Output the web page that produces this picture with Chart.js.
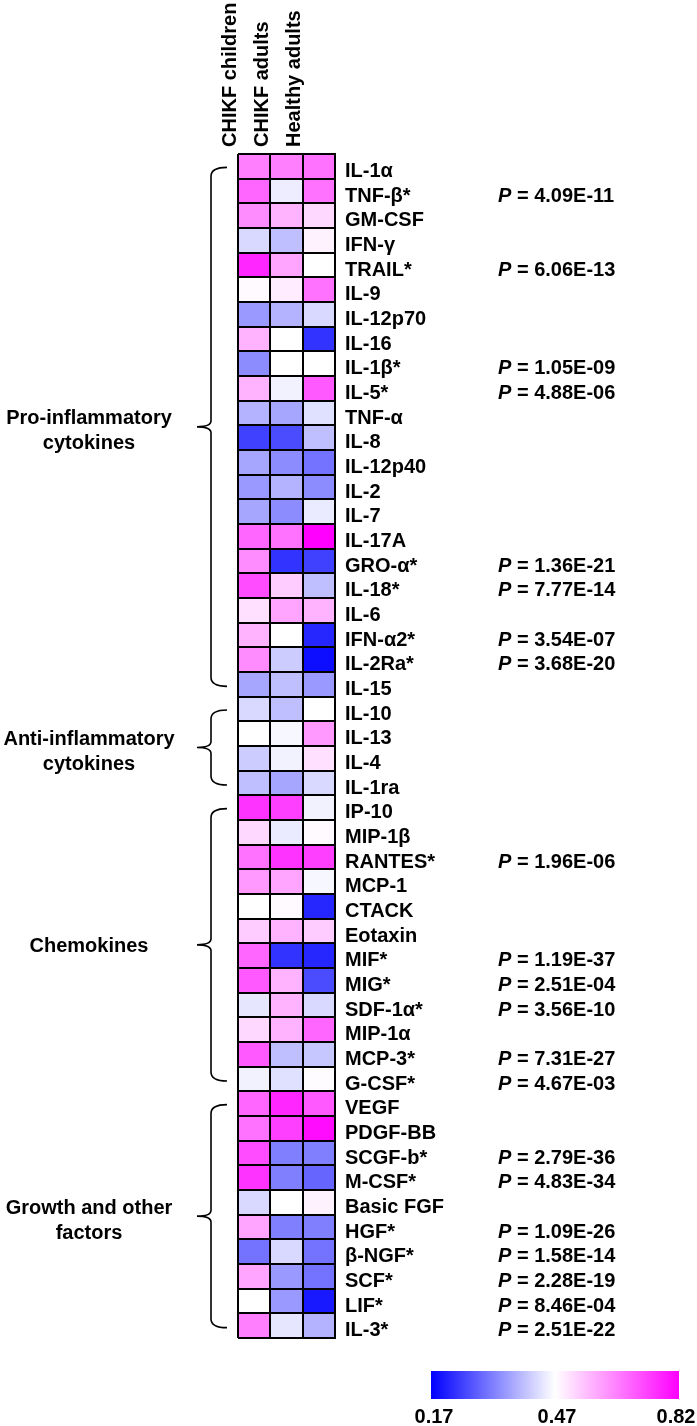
<!DOCTYPE html>
<html>
<head>
<meta charset="utf-8">
<script src="https://cdn.jsdelivr.net/npm/chart.js@4.4.1/dist/chart.umd.min.js"></script>
<style>
html,body{margin:0;padding:0;background:#fff;}
#wrap{width:697px;height:1426px;position:relative;}
</style>
</head>
<body>
<div id="wrap"><canvas id="c" width="697" height="1426"></canvas></div>
<script>
// ---------------- DATA ----------------
const columns = ['CHIKF children', 'CHIKF adults', 'Healthy adults'];

const analytes = [
  'IL-1α','TNF-β*','GM-CSF','IFN-γ','TRAIL*','IL-9','IL-12p70','IL-16','IL-1β*','IL-5*',
  'TNF-α','IL-8','IL-12p40','IL-2','IL-7','IL-17A','GRO-α*','IL-18*','IL-6','IFN-α2*',
  'IL-2Ra*','IL-15',
  'IL-10','IL-13','IL-4','IL-1ra',
  'IP-10','MIP-1β','RANTES*','MCP-1','CTACK','Eotaxin','MIF*','MIG*','SDF-1α*','MIP-1α',
  'MCP-3*','G-CSF*',
  'VEGF','PDGF-BB','SCGF-b*','M-CSF*','Basic FGF','HGF*','β-NGF*','SCF*','LIF*','IL-3*'
];

const childrenValues = [
  0.645,0.680,0.628,0.425,0.768,0.477,0.350,0.575,0.335,0.575,
  0.380,0.245,0.365,0.350,0.365,0.680,0.628,0.715,0.512,0.575,
  0.628,0.365,
  0.425,0.470,0.410,0.395,
  0.750,0.523,0.663,0.610,0.470,0.540,0.680,0.698,0.440,0.523,
  0.698,0.455,
  0.680,0.663,0.715,0.750,0.425,0.593,0.305,0.593,0.470,0.645
];

const adultsValues = [
  0.645,0.449,0.575,0.395,0.593,0.495,0.380,0.470,0.470,0.455,
  0.365,0.260,0.335,0.380,0.335,0.663,0.230,0.540,0.593,0.470,
  0.410,0.395,
  0.395,0.461,0.455,0.365,
  0.733,0.446,0.750,0.593,0.477,0.575,0.230,0.575,0.575,0.575,
  0.395,0.434,
  0.768,0.733,0.320,0.320,0.470,0.320,0.425,0.350,0.350,0.440
];

const healthyValues = [
  0.663,0.663,0.523,0.488,0.470,0.663,0.425,0.230,0.470,0.698,
  0.434,0.395,0.305,0.335,0.446,0.820,0.245,0.395,0.575,0.215,
  0.185,0.350,
  0.470,0.610,0.512,0.425,
  0.455,0.477,0.733,0.461,0.215,0.540,0.215,0.260,0.425,0.680,
  0.404,0.474,
  0.698,0.803,0.320,0.290,0.488,0.320,0.305,0.305,0.200,0.380
];

const pValues = [
  '','4.09E-11','','','6.06E-13','','','','1.05E-09','4.88E-06',
  '','','','','','','1.36E-21','7.77E-14','','3.54E-07',
  '3.68E-20','',
  '','','','',
  '','','1.96E-06','','','','1.19E-37','2.51E-04','3.56E-10','',
  '7.31E-27','4.67E-03',
  '','','2.79E-36','4.83E-34','','1.09E-26','1.58E-14','2.28E-19','8.46E-04','2.51E-22'
];

const groupNames = [['Pro-inflammatory','cytokines'], ['Anti-inflammatory','cytokines'], ['Chemokines'], ['Growth and other','factors']];
const groupFirst = ['IL-1α','IL-10','IP-10','VEGF'];
const groupLast  = ['IL-15','IL-1ra','G-CSF*','IL-3*'];

const colorbarTicks = ['0.17','0.47','0.82'];
const colorMin = 0.17, colorMid = 0.47, colorMax = 0.82;

// ---------------- HELPERS ----------------
const FONT = '"Liberation Sans", Arial, Helvetica, sans-serif';
function colorFor(v){
  let r, g, b;
  if (v <= colorMid){
    const t = Math.max(0, Math.min(1, (colorMid - v) / (colorMid - colorMin)));
    r = 255 * (1 - t); g = 255 * (1 - t); b = 255;
  } else {
    const t = Math.max(0, Math.min(1, (v - colorMid) / (colorMax - colorMid)));
    r = 255; g = 255 * (1 - t); b = 255;
  }
  return 'rgb(' + Math.round(r) + ',' + Math.round(g) + ',' + Math.round(b) + ')';
}

const extras = {
  id: 'extras',
  afterDraw(chart){
    const ctx = chart.ctx;
    const ys = chart.scales.y;
    const area = chart.chartArea;
    ctx.save();
    ctx.fillStyle = '#000';
    ctx.strokeStyle = '#000';

    // P values
    ctx.textBaseline = 'middle';
    ctx.textAlign = 'left';
    const px = area.right + 163;
    pValues.forEach((p, i) => {
      if (!p) return;
      const py = ys.getPixelForValue(i) + 5;
      ctx.font = 'italic bold 20px ' + FONT;
      ctx.fillText('P', px, py);
      const w = ctx.measureText('P').width;
      ctx.font = 'bold 20px ' + FONT;
      ctx.fillText(' = ' + p, px + w, py);
    });

    // Brackets and group labels
    const xv = area.left - 27, xh = area.left - 11, xt = area.left - 41;
    ctx.lineWidth = 1.6;
    groupNames.forEach((lines, k) => {
      const y1 = ys.getPixelForValue(analytes.indexOf(groupFirst[k])) + 1;
      const y2 = ys.getPixelForValue(analytes.indexOf(groupLast[k])) + 2;
      const ym = (y1 + y2) / 2;
      const r = 9;
      ctx.beginPath();
      ctx.moveTo(xh, y1);
      ctx.quadraticCurveTo(xv, y1, xv, y1 + r);
      ctx.lineTo(xv, ym - 6);
      ctx.quadraticCurveTo(xv, ym, xt, ym);
      ctx.quadraticCurveTo(xv, ym, xv, ym + 6);
      ctx.lineTo(xv, y2 - r);
      ctx.quadraticCurveTo(xv, y2, xh, y2);
      ctx.stroke();

      ctx.font = 'bold 20px ' + FONT;
      ctx.textAlign = 'center';
      ctx.textBaseline = 'middle';
      if (lines.length === 1){
        ctx.fillText(lines[0], 89, ym + 2);
      } else {
        ctx.fillText(lines[0], 89, ym - 8);
        ctx.fillText(lines[1], 89, ym + 17);
      }
    });

    // Colour bar
    const bx0 = 431, bx1 = 679, by0 = 1371, by1 = 1399;
    const grad = ctx.createLinearGradient(bx0, 0, bx1, 0);
    grad.addColorStop(0, colorFor(colorMin));
    grad.addColorStop(0.5, colorFor(colorMid));
    grad.addColorStop(1, colorFor(colorMax));
    ctx.fillStyle = grad;
    ctx.fillRect(bx0, by0, bx1 - bx0, by1 - by0);
    ctx.fillStyle = '#000';
    ctx.font = 'bold 20px ' + FONT;
    ctx.textAlign = 'center';
    ctx.textBaseline = 'middle';
    const tx = [bx0 + 3, (bx0 + bx1) / 2 + 2, bx1 - 3];
    colorbarTicks.forEach((t, i) => ctx.fillText(t, tx[i], 1417));
    ctx.restore();
  }
};

function makeDataset(label, vals){
  return {
    label: label,
    data: vals.map(() => 1),
    backgroundColor: vals.map(colorFor),
    borderWidth: 0,
    barPercentage: 1,
    categoryPercentage: 1,
    xAxisID: 'x',
    yAxisID: 'y'
  };
}

const labelFont = { family: FONT, size: 20, weight: 'bold' };

new Chart(document.getElementById('c').getContext('2d'), {
  type: 'bar',
  data: {
    labels: analytes,
    datasets: [
      makeDataset(columns[0], childrenValues),
      makeDataset(columns[1], adultsValues),
      makeDataset(columns[2], healthyValues)
    ]
  },
  options: {
    indexAxis: 'y',
    responsive: false,
    animation: false,
    layout: { padding: { left: 238, right: 0, top: 0, bottom: 88 } },
    plugins: { legend: { display: false }, tooltip: { enabled: false } },
    scales: {
      x: { type: 'linear', stacked: true, min: 0, max: 3, display: false },
      x2: {
        type: 'category', labels: columns, position: 'top', offset: true,
        grid: { offset: true, color: '#000', lineWidth: 2, z: 1, drawTicks: false },
        border: { display: false },
        ticks: { minRotation: 90, maxRotation: 90, padding: 7, color: '#000', font: labelFont },
        afterFit(s){ s.height = 154; }
      },
      y: {
        type: 'category', position: 'right', stacked: true, offset: true,
        grid: { offset: true, color: '#000', lineWidth: 2, z: 1, drawTicks: false },
        border: { display: true, color: '#000', width: 2, z: 1 },
        ticks: { padding: 10, labelOffset: 5, color: '#000', font: labelFont, autoSkip: false },
        afterFit(s){ s.width = 362; }
      }
    }
  },
  plugins: [extras]
});
</script>
</body>
</html>
